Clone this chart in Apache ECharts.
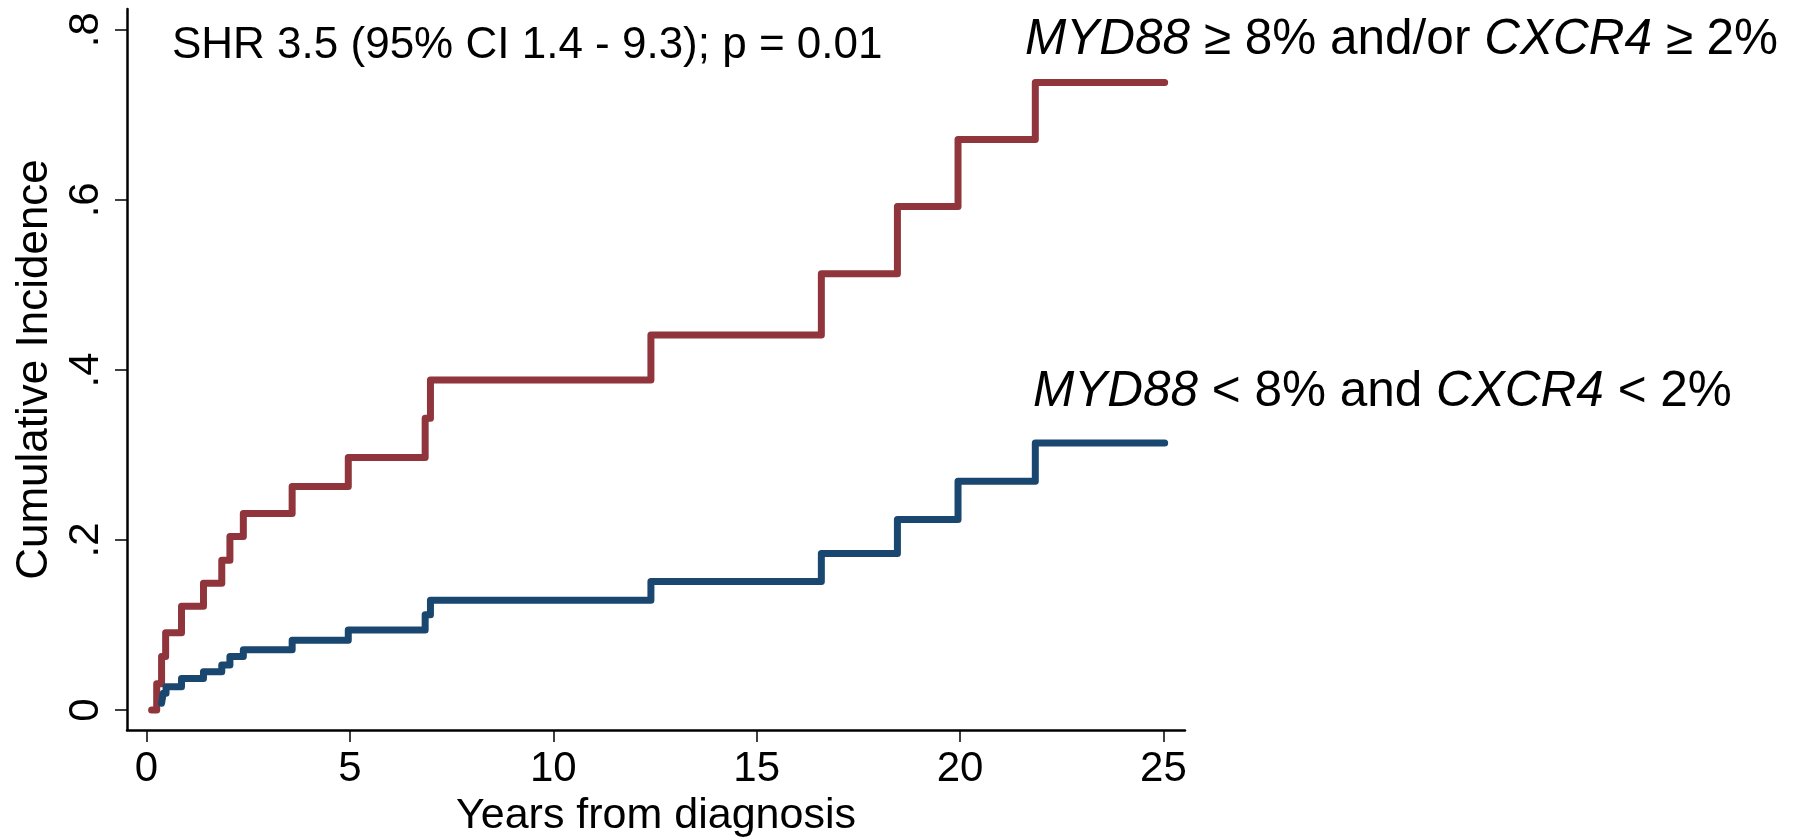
<!DOCTYPE html>
<html><head><meta charset="utf-8">
<script src="https://cdn.jsdelivr.net/npm/echarts@6/dist/echarts.min.js"></script>
<style>html,body{margin:0;padding:0;background:#fff}#c{width:1803px;height:837px}</style>
</head><body><div id="c"></div>
<script>
// Group: MYD88 >= 8% and/or CXCR4 >= 2%
const highTimes  = [0.125, 0.25, 0.37, 0.47, 0.86, 1.40, 1.85, 2.05, 2.38, 3.58, 4.96, 6.85, 6.98, 12.4, 16.59, 18.46, 19.95, 21.85, 25.03];
const highValues = [0, 0.031, 0.063, 0.091, 0.122, 0.149, 0.176, 0.204, 0.231, 0.263, 0.297, 0.343, 0.388, 0.441, 0.513, 0.592, 0.671, 0.738, 0.738];
// Group: MYD88 < 8% and CXCR4 < 2%
const lowTimes  = [0.37, 0.41, 0.48, 0.86, 1.40, 1.85, 2.05, 2.38, 3.58, 4.96, 6.85, 6.98, 12.4, 16.59, 18.46, 19.95, 21.85, 25.03];
const lowValues = [0.008, 0.0196, 0.0275, 0.037, 0.045, 0.053, 0.063, 0.071, 0.082, 0.094, 0.112, 0.129, 0.151, 0.184, 0.224, 0.269, 0.314, 0.314];

const xTicks = [0, 5, 10, 15, 20, 25];
const yTicks = [0, 0.2, 0.4, 0.6, 0.8];
const yTickLabels = ['0', '.2', '.4', '.6', '.8'];
const xTitle = 'Years from diagnosis';
const yTitle = 'Cumulative Incidence';
const statText = 'SHR 3.5 (95% CI 1.4 - 9.3); p = 0.01';
const highLabel = '{i|MYD88}{n| ≥ 8% and/or }{i|CXCR4}{n| ≥ 2%}';
const lowLabel = '{i|MYD88}{n| < 8% and }{i|CXCR4}{n| < 2%}';

const FF = '"Liberation Sans", Arial, sans-serif';
const red = '#90353b', blue = '#1a476f';

function pairs(t, v) { return t.map((x, i) => [x, v[i]]); }
function rich(size) {
  return {
    i: { fontStyle: 'italic', fontSize: size, fontFamily: FF, fill: '#000', font: 'italic ' + size + 'px ' + FF },
    n: { fontStyle: 'normal', fontSize: size, fontFamily: FF, fill: '#000', font: size + 'px ' + FF }
  };
}

const chart = echarts.init(document.getElementById('c'), null, { renderer: 'canvas' });
chart.setOption({
  animation: false,
  backgroundColor: '#fff',
  grid: { left: 127, right: 618, top: 9, bottom: 107, containLabel: false, outerBoundsMode: 'none' },
  xAxis: {
    type: 'value', min: -0.48, max: 25.53,
    name: xTitle, nameLocation: 'middle', nameGap: 58,
    nameTextStyle: { fontSize: 43, fontFamily: FF, color: '#000' },
    axisLine: { show: true, onZero: false, lineStyle: { color: '#000', width: 2.5 } },
    axisTick: { show: true, inside: false, length: 12, customValues: xTicks, lineStyle: { color: '#000', width: 1.5 } },
    axisLabel: { show: true, customValues: xTicks, margin: 18, fontSize: 42, fontFamily: FF, color: '#000' },
    splitLine: { show: false }
  },
  yAxis: {
    type: 'value', min: -0.0235, max: 0.8244,
    name: yTitle, nameLocation: 'middle', nameGap: 66,
    nameTextStyle: { fontSize: 44, fontFamily: FF, color: '#000' },
    axisLine: { show: true, onZero: false, lineStyle: { color: '#000', width: 2.5 } },
    axisTick: { show: true, inside: false, length: 12, customValues: yTicks, lineStyle: { color: '#000', width: 1.5 } },
    axisLabel: {
      show: true, customValues: yTicks, rotate: 90, margin: 20, fontSize: 42, fontFamily: FF, color: '#000',
      formatter: function (v) { const k = yTicks.findIndex(t => Math.abs(t - v) < 1e-6); return k >= 0 ? yTickLabels[k] : ''; }
    },
    splitLine: { show: false }
  },
  series: [
    { type: 'line', step: 'end', data: pairs(highTimes, highValues), showSymbol: false, symbol: 'none',
      lineStyle: { color: red, width: 7, cap: 'round', join: 'round' }, z: 2 },
    { type: 'line', step: 'end', data: pairs(lowTimes, lowValues), showSymbol: false, symbol: 'none',
      lineStyle: { color: blue, width: 7, cap: 'round', join: 'round' }, z: 3 }
  ],
  graphic: [
    { type: 'text', left: 172, top: 24, style: { text: statText, font: '44px ' + FF, fontSize: 44, fontFamily: FF, fill: '#000' } },
    { type: 'text', left: 1025, top: 15, style: { text: highLabel, rich: rich(49.5), font: '49.5px ' + FF, fontSize: 49.5, fontFamily: FF, fill: '#000' } },
    { type: 'text', left: 1033, top: 367, style: { text: lowLabel, rich: rich(49.5), font: '49.5px ' + FF, fontSize: 49.5, fontFamily: FF, fill: '#000' } }
  ]
});
</script>
</body></html>
